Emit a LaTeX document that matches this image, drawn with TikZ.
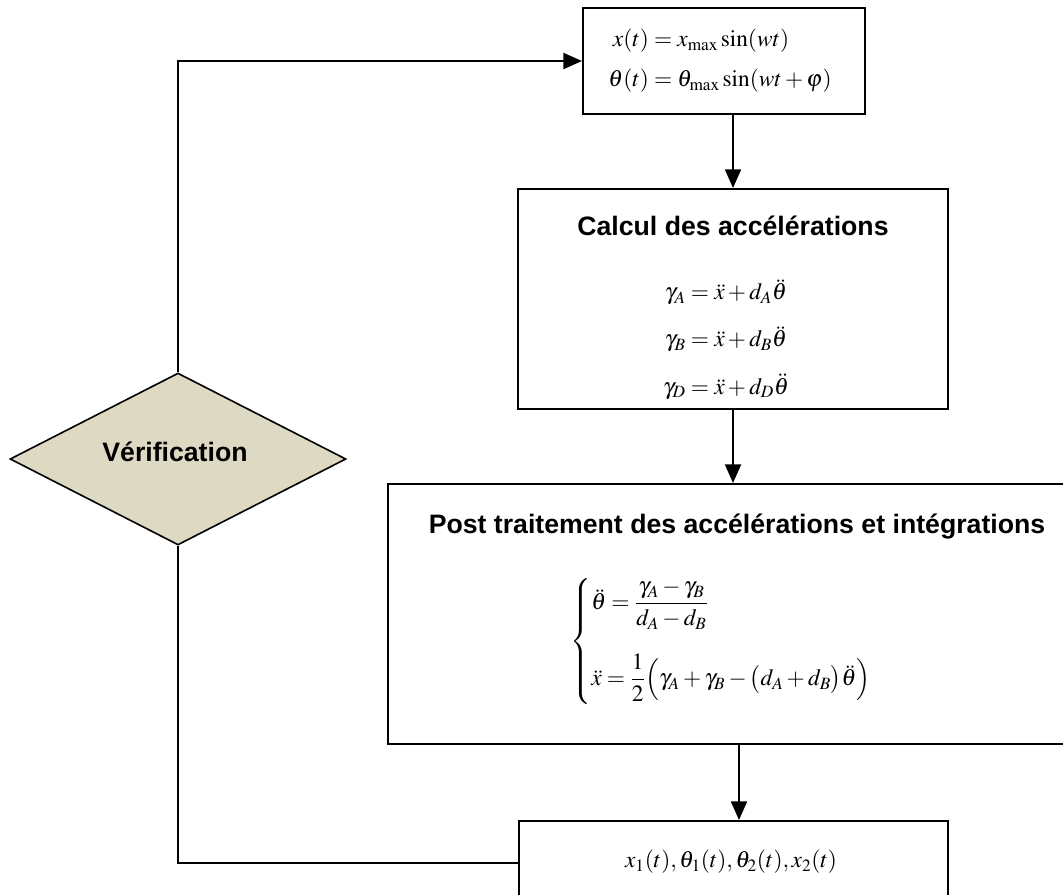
\documentclass[tikz,border=0pt]{standalone}
\usepackage{amsmath,amssymb}
\usepackage{mathptmx}
\usepackage[no-math]{fontspec}
\usepackage{tikz}
\usetikzlibrary{arrows.meta,positioning,calc,shapes.geometric}
\newfontfamily\arialfont{Liberation Sans}
\definecolor{verifcol}{RGB}{221,217,195}

\begin{document}
\begin{tikzpicture}[x=0.75pt,y=-0.75pt,
  box/.style={draw,line width=1.5pt,inner sep=0pt},
  decision/.style={diamond,draw,line width=1.2pt,fill=verifcol,inner sep=0pt,
    minimum width=252pt,minimum height=129pt},
  title/.style={font=\arialfont\bfseries\fontsize{20}{24}\selectfont},
  eqn/.style={font=\fontsize{17.5}{21}\selectfont},
  flow/.style={line width=1.5pt,-{Triangle[length=14pt,width=12pt]}},
  link/.style={line width=1.5pt}]
\path[use as bounding box] (0,0) rectangle (1063,894);
\clip (0,0) rectangle (1063,894);

% boxes
\node[box,minimum width=211.5pt,minimum height=79.5pt] (top) at (724,61) {};
\node[box,minimum width=322.5pt,minimum height=165pt] (calc) at (733,299) {};
\node[box,minimum width=523.5pt,minimum height=195pt] (post) at (737,614) {};
\node[box,minimum width=321.75pt,minimum height=63pt] (res) at (733.5,863) {};
\node[decision] (verif) at (178,459) {};

% texts
\node[eqn] (toptext) at (720,61)
  {$\begin{aligned}x(t)&=x_{\max}\sin(wt)\\[6pt]
    \theta(t)&=\theta_{\max}\sin(wt+\varphi)\end{aligned}$};
\node[title] (calctitle) at (733,226) {Calcul des accélérations};
\node[eqn] (calctext) at (726,341)
  {$\begin{aligned}\gamma_A&=\ddot{x}+d_A\ddot{\theta}\\[10pt]
    \gamma_B&=\ddot{x}+d_B\ddot{\theta}\\[10pt]
    \gamma_D&=\ddot{x}+d_D\ddot{\theta}\end{aligned}$};
\node[title] (posttitle) at (737,527) {Post traitement des accélérations et intégrations};
\node[eqn] (posttext) at (733,641)
  {$\begin{cases}\ddot{\theta}=\dfrac{\gamma_A-\gamma_B}{d_A-d_B}\\[26pt]
    \ddot{x}=\dfrac{1}{2}\Bigl(\gamma_A+\gamma_B-\bigl(d_A+d_B\bigr)\ddot{\theta}\Bigr)\end{cases}$};
\node[eqn] (restext) at (731,862) {$x_1(t),\theta_1(t),\theta_2(t),x_2(t)$};
\node[title] (veriftext) at (175,452) {Vérification};

% connectors
\coordinate (ax) at (733,0);
\coordinate (bx) at (739,0);
\draw[flow] (top.south -| ax) -- (calc.north -| ax);
\draw[flow] (calc.south -| ax) -- (post.north -| ax);
\draw[flow] (post.south -| bx) -- (res.north -| bx);
\draw[link] (verif.south) |- (res.west);
\draw[flow] (verif.north) |- (top.west);
\end{tikzpicture}
\end{document}
